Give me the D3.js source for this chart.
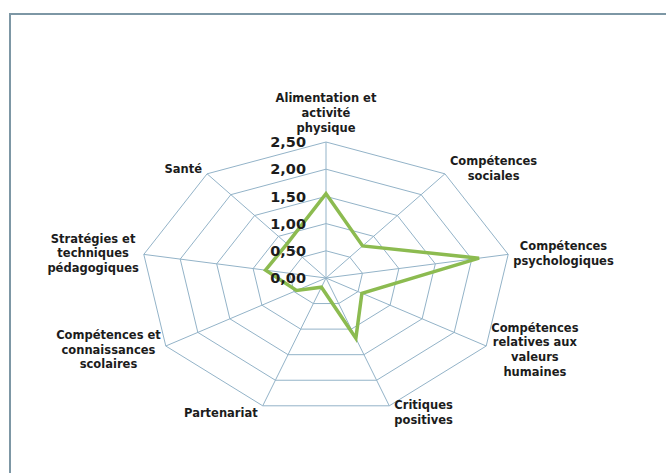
<!DOCTYPE html>
<html>
<head>
<meta charset="utf-8">
<script src="https://cdn.jsdelivr.net/npm/d3@7"></script>
<style>
  body { margin: 0; background: #fff; }
  svg text { font-family: "DejaVu Sans", sans-serif; font-weight: bold; fill: #1c1c1c; }
</style>
</head>
<body>
<div id="chart"></div>
<script>
// axis names, one array of lines per axis (clockwise from the top)
var categories = [
    ["Alimentation et", "activité", "physique"],
    ["Compétences", "sociales"],
    ["Compétences", "psychologiques"],
    ["Compétences", "relatives aux", "valeurs", "humaines"],
    ["Critiques", "positives"],
    ["Partenariat"],
    ["Compétences et", "connaissances", "scolaires"],
    ["Stratégies et", "techniques", "pédagogiques"],
    ["Santé"]
];
var values = [1.55, 0.77, 2.10, 0.56, 1.18, 0.18, 0.46, 0.83, 0.82];
var ticks = [0, 0.5, 1, 1.5, 2, 2.5];
var tickLabels = ["0,00", "0,50", "1,00", "1,50", "2,00", "2,50"];

var width = 666, height = 473;
var cx = 326, cy = 278,
    rx = 185, ry = 136; // picture is stretched sideways

var fmt = function(d) { return tickLabels[ticks.indexOf(d)]; };

var svg = d3.select("#chart")
    .append("svg")
    .attr("width", width)
    .attr("height", height);

// frame (only top and left edges show)
svg.append("path")
    .attr("d", "M10," + height + "V14H" + width)
    .attr("fill", "none")
    .attr("stroke", "#7d97a5")
    .attr("stroke-width", 2);

var r = d3.scaleLinear().domain([0, 2.5]).range([0, 1]);
var n = categories.length;
var angle = function(i) { return i * 2 * Math.PI / n; };
var pt = function(v, i) {
    return [cx + rx * r(v) * Math.sin(angle(i)), cy - ry * r(v) * Math.cos(angle(i))];
};

var line = d3.line().curve(d3.curveLinearClosed);

var grid = svg.append("g").attr("class", "grid");

// rings
grid.selectAll(".ring")
    .data(ticks.slice(1))
    .enter()
    .append("path")
    .attr("class", "ring")
    .attr("d", function(t) {
        return line(d3.range(n).map(function(i) { return pt(t, i); }));
    })
    .attr("fill", "none")
    .attr("stroke", "#93b3c8")
    .attr("stroke-width", 1);

// spokes
grid.selectAll(".spoke")
    .data(d3.range(n))
    .enter()
    .append("line")
    .attr("class", "spoke")
    .attr("x1", cx)
    .attr("y1", cy)
    .attr("x2", function(i) { return pt(2.5, i)[0]; })
    .attr("y2", function(i) { return pt(2.5, i)[1]; })
    .attr("stroke", "#93b3c8")
    .attr("stroke-width", 1);

// series
svg.append("path")
    .attr("d", line(values.map(function(v, i) { return pt(v, i); })))
    .attr("fill", "none")
    .attr("stroke", "#8cbb50")
    .attr("stroke-width", 3.5)
    .attr("stroke-linejoin", "miter");

// tick labels
svg.append("g")
    .selectAll("text")
    .data(ticks)
    .enter()
    .append("text")
    .attr("x", cx - 20)
    .attr("y", function(t) { return pt(t, 0)[1]; })
    .attr("dy", "0.36em")
    .attr("text-anchor", "end")
    .style("font-size", "14.5px")
    .text(fmt);

// category labels
var lh = 14.7;
var labels = svg.append("g")
    .selectAll("text")
    .data(categories)
    .enter()
    .append("text")
    .style("font-size", "11.5px")
    .attr("text-anchor", "middle");

labels.selectAll("tspan")
    .data(function(d) { return d; })
    .enter()
    .append("tspan")
    .text(function(d) { return d; });

labels.each(function(d, i) {
    var el = d3.select(this);
    var w = d3.max(el.selectAll("tspan").nodes(), function(s) { return s.getComputedTextLength(); });
    var v = pt(2.5, i);
    var s = Math.sin(angle(i)), c = Math.cos(angle(i));
    var side = Math.abs(s) < 0.1 ? 0 : (s > 0 ? 1 : -1);
    var x = v[0] + side * (5 + w / 2);
    var blockH = d.length * lh;
    var midY = side === 0 ? v[1] - 7 - blockH / 2 : v[1] - c * 7;
    var top = midY - blockH / 2;
    el.selectAll("tspan")
        .attr("x", x)
        .attr("y", function(t, k) { return top + lh * k + lh / 2; })
        .attr("dy", "0.36em");
});
</script>
</body>
</html>
